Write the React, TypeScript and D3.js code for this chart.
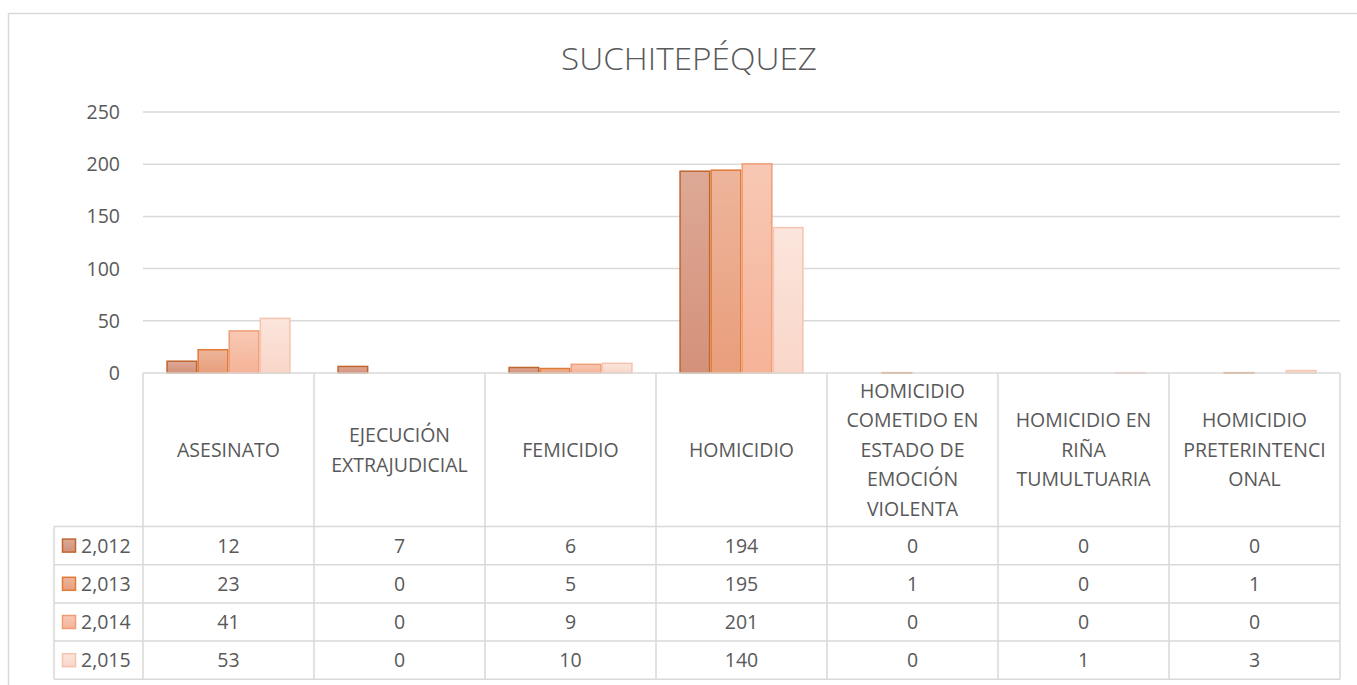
import React from "react";
import * as d3 from "d3";

const categories = [
  ["ASESINATO"],
  ["EJECUCIÓN", "EXTRAJUDICIAL"],
  ["FEMICIDIO"],
  ["HOMICIDIO"],
  ["HOMICIDIO", "COMETIDO EN", "ESTADO DE", "EMOCIÓN", "VIOLENTA"],
  ["HOMICIDIO EN", "RIÑA", "TUMULTUARIA"],
  ["HOMICIDIO", "PRETERINTENCI", "ONAL"],
];
const seriesNames = ["2,012", "2,013", "2,014", "2,015"];
const values2012 = [12, 7, 6, 194, 0, 0, 0];
const values2013 = [23, 0, 5, 195, 1, 0, 1];
const values2014 = [41, 0, 9, 201, 0, 0, 0];
const values2015 = [53, 0, 10, 140, 0, 1, 3];
const yTicks = [0, 50, 100, 150, 200, 250];
const title = "SUCHITEPÉQUEZ";

const series = [values2012, values2013, values2014, values2015];
const fillTop = ["#dda996", "#edb59b", "#f8c8b4", "#fbe5dc"];
const fillBottom = ["#d4917a", "#e99e7c", "#f5b398", "#f9d6c8"];
const strokes = ["#bf6530", "#e07a35", "#f09c74", "#f5c3b0"];

const FONT = "'Open Sans', 'Noto Sans', sans-serif";
const TEXT = "#595959";
const GRID = "#d9d9d9";
const FS = 19.5;

export default function App() {
  const left = 143, right = 1340, top = 112, bottom = 373;
  const headerBottom = 526.5;
  const rowH = 38.2;
  const tableLeft = 54;
  const catIdx = categories.map((_, i) => i);

  const x0 = d3.scaleBand<number>().domain(catIdx).range([left, right]).paddingInner(0).paddingOuter(0);
  const bw = x0.bandwidth();
  const groupW = bw / 5.5 * 4;
  const x1 = d3.scaleBand<number>().domain([0, 1, 2, 3]).range([0, groupW]);
  const y = d3.scaleLinear().domain([0, 250]).range([bottom, top]);

  return (
    <svg width={1357} height={685} style={{ position: "absolute", left: 0, top: 0, fontFamily: FONT }}>
      <defs>
        {series.map((_, s) => (
          <linearGradient key={s} id={`g${s}`} x1="0" y1="0" x2="0" y2="1">
            <stop offset="0" stopColor={fillTop[s]} />
            <stop offset="1" stopColor={fillBottom[s]} />
          </linearGradient>
        ))}
      </defs>
      <rect x={0} y={0} width={1357} height={685} fill="#fff" />
      <rect x={8.5} y={13.5} width={1400} height={700} fill="none" stroke={GRID} strokeWidth={1.5} />
      <text x={689} y={69.5} textAnchor="middle" fontSize={31} fill={TEXT} fontWeight={300}
        textLength={256} lengthAdjust="spacingAndGlyphs">{title}</text>
      {yTicks.map((t) => (
        <g key={t}>
          {t > 0 && <line x1={left} x2={right} y1={y(t)} y2={y(t)} stroke={GRID} strokeWidth={1.5} />}
          <text x={120} y={y(t)} dy="0.36em" textAnchor="end" fontSize={FS} fill={TEXT}>{t}</text>
        </g>
      ))}
      {series.map((vals, s) =>
        vals.map((v, i) => {
          const bx = (x0(i) as number) + (bw - groupW) / 2 + (x1(s) as number);
          const by = y(v);
          const h = bottom - by;
          if (v <= 0) return null;
          return (
            <rect key={`${s}-${i}`} x={bx + 0.75} y={by + 0.75} width={x1.bandwidth() - 1.5} height={Math.max(h - 0.75, 0.5)}
              fill={`url(#g${s})`} stroke={strokes[s]} strokeWidth={1.5} />
          );
        })
      )}
      <g stroke={GRID} strokeWidth={1.5} fill="none">
        <line x1={left} x2={right} y1={bottom} y2={bottom} />
        {d3.range(categories.length + 1).map((i) => {
          const xx = i < categories.length ? (x0(i) as number) : right;
          return <line key={i} x1={xx} x2={xx} y1={bottom} y2={headerBottom + rowH * 4} />;
        })}
        {d3.range(5).map((r) => (
          <line key={r} x1={tableLeft} x2={right} y1={headerBottom + rowH * r} y2={headerBottom + rowH * r} />
        ))}
        <line x1={tableLeft} x2={tableLeft} y1={headerBottom} y2={headerBottom + rowH * 4} />
      </g>
      {categories.map((lines, i) => {
        const cx = (x0(i) as number) + bw / 2;
        const lh = 29.5;
        const cy = (bottom + headerBottom) / 2;
        return (
          <text key={i} textAnchor="middle" fontSize={FS} fill={TEXT}>
            {lines.map((l, k) => (
              <tspan key={k} x={cx} y={cy + (k - (lines.length - 1) / 2) * lh} dy="0.36em">{l}</tspan>
            ))}
          </text>
        );
      })}
      {series.map((vals, s) => {
        const ry = headerBottom + rowH * s + rowH / 2;
        return (
          <g key={s}>
            <rect x={62.5} y={ry - 6.5} width={13} height={13} fill={`url(#g${s})`} stroke={strokes[s]} strokeWidth={1.5} />
            <text x={81} y={ry} dy="0.36em" fontSize={FS} fill={TEXT}>{seriesNames[s]}</text>
            {vals.map((v, i) => (
              <text key={i} x={(x0(i) as number) + bw / 2} y={ry} dy="0.36em" textAnchor="middle" fontSize={FS} fill={TEXT}>{v}</text>
            ))}
          </g>
        );
      })}
    </svg>
  );
}
